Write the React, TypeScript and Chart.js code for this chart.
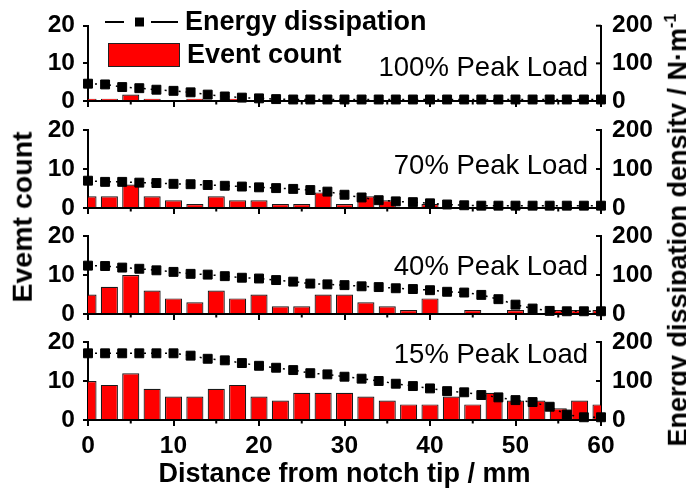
import React, { useEffect, useRef } from "react";
import { Chart, registerables } from "chart.js";

Chart.register(...registerables);

// ---------- data ----------
const distanceBins = [0, 2.5, 5, 7.5, 10, 12.5, 15, 17.5, 20, 22.5, 25, 27.5, 30, 32.5, 35, 37.5, 40, 42.5, 45, 47.5, 50, 52.5, 55, 57.5, 60];
const distancePoints = [0, 2, 4, 6, 8, 10, 12, 14, 16, 18, 20, 22, 24, 26, 28, 30, 32, 34, 36, 38, 40, 42, 44, 46, 48, 50, 52, 54, 56, 58, 60];

const panelLabels = ["100% Peak Load", "70% Peak Load", "40% Peak Load", "15% Peak Load"];

const count100 = [0.6, 0.6, 1.7, 0.6, 0, 0.6, 0, 0.6, 0, 0, 0, 0, 0, 0, 0, 0, 0, 0, 0, 0, 0, 0, 0, 0, 0];
const count70 = [3, 3, 6, 3, 2, 1, 3, 2, 2, 1, 1, 4, 1, 3, 2, 0, 1, 0, 0, 0, 0, 0, 0, 0, 0];
const count40 = [5, 7, 10, 6, 4, 3, 6, 4, 5, 2, 2, 5, 5, 3, 2, 1, 4, 0, 1, 0, 1, 0, 1, 1, 1];
const count15 = [10, 9, 12, 8, 6, 6, 8, 9, 6, 5, 7, 7, 7, 6, 5, 4, 4, 6, 4, 7, 5, 5, 3, 5, 4];

const energy100 = [46, 44, 37, 34, 30, 27, 23, 17, 12, 9, 7, 5, 4, 4, 4, 4, 4, 4, 4, 4, 4, 4, 4, 4, 4, 4, 4, 4, 4, 4, 4];
const energy70 = [70, 67, 67, 65, 64, 62, 61, 59, 57, 55, 53, 51, 49, 46, 42, 34, 27, 20, 17, 15, 12, 9, 7, 6, 6, 6, 6, 6, 6, 6, 6];
const energy40 = [124, 123, 119, 116, 112, 108, 103, 101, 97, 93, 91, 87, 83, 78, 76, 74, 71, 69, 66, 64, 61, 57, 55, 49, 38, 24, 14, 8, 7, 7, 7];
const energy15 = [171, 171, 171, 171, 171, 171, 165, 157, 153, 146, 139, 134, 128, 120, 117, 111, 106, 100, 93, 87, 81, 74, 71, 64, 58, 51, 46, 34, 14, 7, 7];

const countSeries = [count100, count70, count40, count15];
const energySeries = [energy100, energy70, energy40, energy15];

const xMin = 0;
const xMax = 60;
const xStep = 10;
const xMinorTicks = [5, 15, 25, 35, 45, 55];
const countMax = 20;
const countStep = 10;
const energyMax = 200;
const energyStep = 100;
const energyTicks = [0, 100, 200];

const legendLine = "Energy dissipation";
const legendBar = "Event count";
const xTitle = "Distance from notch tip / mm";
const leftTitle = "Evemt count";
const rightTitle = "Energy dissipation density / N·m";

// ---------- layout ----------
const W = 686;
const H = 489;
const PLOT_LEFT = 88;
const PLOT_RIGHT = 601;
const PANELS = [
  { top: 23, bottom: 101, labelY: 68 },
  { top: 130, bottom: 208, labelY: 166 },
  { top: 236, bottom: 314, labelY: 267 },
  { top: 342, bottom: 420, labelY: 355 },
];
const FONT = '"Liberation Sans", Arial, Helvetica, sans-serif';

function makeDecor(idx: number) {
  return {
    id: "decor" + idx,
    afterDraw(chart: any) {
      const { ctx, chartArea, scales } = chart;
      const xs = scales.x;
      const y1 = scales.y1;
      ctx.save();
      ctx.strokeStyle = "#000";
      ctx.lineWidth = 2;
      for (const v of xMinorTicks) {
        const px = xs.getPixelForValue(v);
        ctx.beginPath();
        ctx.moveTo(px, chartArea.bottom);
        ctx.lineTo(px, chartArea.bottom + 3.5);
        ctx.stroke();
      }
      for (const v of energyTicks) {
        const py = y1.getPixelForValue(v);
        ctx.beginPath();
        ctx.moveTo(chartArea.right - 5, py);
        ctx.lineTo(chartArea.right, py);
        ctx.stroke();
      }
      ctx.fillStyle = "#000";
      ctx.font = `27.5px ${FONT}`;
      ctx.textAlign = "right";
      ctx.textBaseline = "middle";
      ctx.fillText(panelLabels[idx], chartArea.right - 13, PANELS[idx].labelY);

      if (idx === 0) {
        // legend
        ctx.lineWidth = 2;
        ctx.beginPath();
        ctx.moveTo(105, 22);
        ctx.lineTo(124, 22);
        ctx.moveTo(151, 22);
        ctx.lineTo(178, 22);
        ctx.stroke();
        ctx.fillRect(135, 17.5, 9, 9);
        ctx.fillStyle = "#ff0000";
        ctx.fillRect(108, 43, 72, 24);
        ctx.strokeStyle = "#222";
        ctx.lineWidth = 1;
        ctx.strokeRect(108.5, 43.5, 71, 23);
        ctx.fillStyle = "#000";
        ctx.font = `bold 27px ${FONT}`;
        ctx.textAlign = "left";
        ctx.textBaseline = "middle";
        ctx.fillText(legendLine, 185, 23);
        ctx.fillText(legendBar, 187, 56);
      }
      ctx.restore();
    },
  };
}

function Panel({ idx }: { idx: number }) {
  const ref = useRef<HTMLCanvasElement | null>(null);
  useEffect(() => {
    const canvas = ref.current;
    if (!canvas) return;
    const p = PANELS[idx];
    const isLast = idx === PANELS.length - 1;
    const counts = countSeries[idx];
    const energy = energySeries[idx];
    const chart = new Chart(canvas, {
      type: "bar",
      data: {
        datasets: [
          {
            type: "line",
            label: legendLine,
            data: distancePoints.map((d, i) => ({ x: d, y: energy[i] })),
            xAxisID: "x",
            yAxisID: "y1",
            borderColor: "#000",
            borderWidth: 1.5,
            borderDash: [2, 5],
            pointStyle: "rect",
            pointRadius: 6.3,
            pointBackgroundColor: "#000",
            pointBorderColor: "#000",
            pointBorderWidth: 1,
            tension: 0,
            clip: false,
            order: 0,
          } as any,
          {
            type: "bar",
            label: legendBar,
            data: distanceBins.map((d, i) => ({ x: d, y: counts[i] })),
            xAxisID: "x",
            yAxisID: "y",
            backgroundColor: "#ff0000",
            borderColor: "#1a1a1a",
            borderWidth: 1.2,
            categoryPercentage: 1,
            barPercentage: 0.8,
            clip: 0,
            order: 1,
          } as any,
        ],
      },
      options: {
        animation: false,
        responsive: false,
        maintainAspectRatio: false,
        events: [],
        layout: { padding: { top: p.top, left: 0, right: 0, bottom: 0 } },
        plugins: { legend: { display: false }, tooltip: { enabled: false } },
        scales: {
          x: {
            type: "linear",
            position: "bottom",
            min: xMin,
            max: xMax,
            offset: false,
            afterFit: (s: any) => {
              s.height = H - p.bottom;
            },
            ticks: {
              stepSize: xStep,
              autoSkip: false,
              maxRotation: 0,
              color: "#000",
              padding: 6,
              font: { family: FONT, size: 24.5, weight: "bold" },
              callback: (v: any) => (isLast ? String(v) : ""),
            },
            grid: {
              display: true,
              offset: false,
              drawOnChartArea: false,
              drawTicks: true,
              tickLength: 6,
              color: "#000",
              lineWidth: 2,
            },
            border: { display: true, color: "#000", width: 2 },
            title: {
              display: isLast,
              text: xTitle,
              color: "#000",
              font: { family: FONT, size: 27, weight: "bold", lineHeight: 1 },
              padding: { top: 0, bottom: 1 },
            },
          },
          y: {
            type: "linear",
            position: "left",
            min: 0,
            max: countMax,
            afterFit: (s: any) => {
              s.width = PLOT_LEFT;
            },
            ticks: {
              stepSize: countStep,
              color: "#000",
              padding: 8,
              font: { family: FONT, size: 24.5, weight: "bold" },
            },
            grid: {
              display: true,
              drawOnChartArea: false,
              drawTicks: true,
              tickLength: 5,
              color: "#000",
              lineWidth: 2,
            },
            border: { display: true, color: "#000", width: 2 },
          },
          y1: {
            type: "linear",
            position: "right",
            min: 0,
            max: energyMax,
            afterFit: (s: any) => {
              s.width = W - PLOT_RIGHT;
            },
            ticks: {
              stepSize: energyStep,
              color: "#000",
              padding: 11,
              font: { family: FONT, size: 24.5, weight: "bold" },
            },
            grid: { display: false, drawTicks: false, drawOnChartArea: false },
            border: { display: true, color: "#000", width: 2 },
          },
        },
      } as any,
      plugins: [makeDecor(idx)],
    });
    return () => chart.destroy();
  }, [idx]);
  return (
    <canvas
      ref={ref}
      width={W}
      height={H}
      style={{ position: "absolute", left: 0, top: 0, width: W, height: H }}
    />
  );
}

export default function App() {
  return (
    <div
      style={{
        position: "absolute",
        left: 0,
        top: 0,
        width: W,
        height: H,
        overflow: "hidden",
        background: "#fff",
        fontFamily: FONT,
      }}
    >
      {PANELS.map((_, i) => (
        <Panel key={i} idx={i} />
      ))}
      <div
        style={{
          position: "absolute",
          left: 22,
          top: 217,
          transform: "translate(-50%, -50%) rotate(-90deg)",
          whiteSpace: "nowrap",
          fontWeight: "bold",
          fontSize: 28.5,
          lineHeight: 1,
          color: "#000",
        }}
      >
        {leftTitle}
      </div>
      <div
        style={{
          position: "absolute",
          left: 677,
          top: 230,
          transform: "translate(-50%, -50%) rotate(-90deg)",
          whiteSpace: "nowrap",
          fontWeight: "bold",
          fontSize: 27,
          lineHeight: 1,
          color: "#000",
        }}
      >
        {rightTitle}
        <sup style={{ fontSize: "60%", verticalAlign: "0.7em" }}>-1</sup>
      </div>
    </div>
  );
}
